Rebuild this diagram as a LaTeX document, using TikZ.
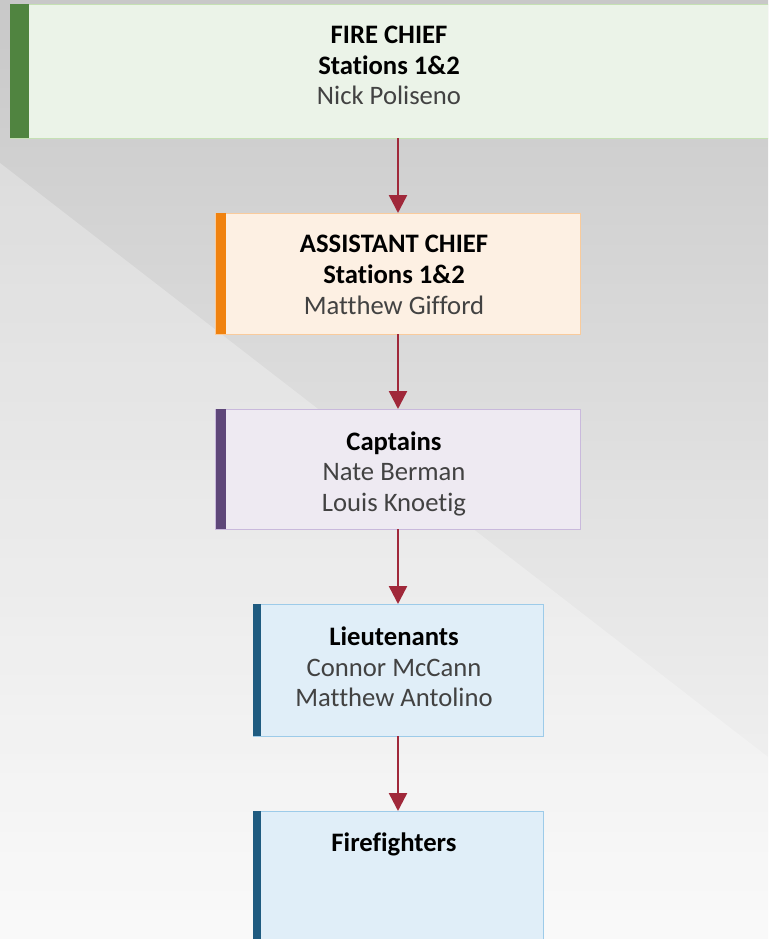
\documentclass[tikz,border=0pt]{standalone}
\usepackage{fontspec}
\setmainfont{Carlito}[Ligatures={NoCommon}]
\usetikzlibrary{arrows.meta,positioning}

\definecolor{bgtop}{RGB}{200,200,200}
\definecolor{bgbot}{RGB}{248,248,248}
\definecolor{chiefbar}{RGB}{80,132,64}
\definecolor{chieffill}{RGB}{235,243,232}
\definecolor{chiefline}{RGB}{197,224,180}
\definecolor{asstbar}{RGB}{240,130,15}
\definecolor{asstfill}{RGB}{253,240,227}
\definecolor{asstline}{RGB}{249,203,156}
\definecolor{captbar}{RGB}{94,71,121}
\definecolor{captfill}{RGB}{238,234,242}
\definecolor{captline}{RGB}{201,185,220}
\definecolor{ltbar}{RGB}{31,91,128}
\definecolor{ltfill}{RGB}{224,238,248}
\definecolor{ltline}{RGB}{157,203,233}
\definecolor{linkred}{RGB}{160,40,58}
\definecolor{namegray}{RGB}{66,66,66}

\tikzset{
	box/.style={draw=#1line, fill=#1fill, line width=0.75pt, inner sep=0pt, outer sep=0pt},
	title/.style={align=center, inner sep=0pt, anchor=north, font=\fontsize{20}{23}\selectfont},
	link/.style={draw=linkred, line width=1.8pt, -{Triangle[width=13.5pt,length=13.5pt]}}
}

\begin{document}
\begin{tikzpicture}[x=0.75pt,y=-0.75pt, node distance=56.25pt]
	\clip (0,0) rectangle (768,939);
	% background
	\shade[top color=bgtop, bottom color=bgbot] (0,0) rectangle (768,939);
	\fill[white, opacity=0.28] (0,163) -- (768,757) -- (768,939) -- (0,939) -- cycle;

	% boxes
	\node[box=chief, minimum width=582pt, minimum height=100.5pt] (chief) at (398,71) {};
	\node[box=asst, minimum width=273.75pt, minimum height=90.75pt, below=of chief] (asst) {};
	\node[box=capt, minimum width=273.75pt, minimum height=90pt, below=of asst] (capt) {};
	\node[box=lt, minimum width=217.5pt, minimum height=99pt, below=of capt] (lt) {};
	\node[box=lt, minimum width=217.5pt, minimum height=103.5pt, below=of lt] (ff) {};

	% colour bars
	\fill[chiefbar] (chief.north west) rectangle ([xshift=14.25pt]chief.south west);
	\fill[asstbar] (asst.north west) rectangle ([xshift=7.5pt]asst.south west);
	\fill[captbar] (capt.north west) rectangle ([xshift=7.5pt]capt.south west);
	\fill[ltbar] (lt.north west) rectangle ([xshift=6pt]lt.south west);
	\fill[ltbar] (ff.north west) rectangle ([xshift=6pt]ff.south west);

	% texts
	\node[title] (chieftxt) at ([xshift=-6.75pt,yshift=-16.2pt]chief.north)
		{\textbf{FIRE CHIEF}\\\textbf{Stations 1\&2}\\\textcolor{namegray}{Nick Poliseno}};
	\node[title] (assttxt) at ([xshift=-3pt,yshift=-16.6pt]asst.north)
		{\textbf{ASSISTANT CHIEF}\\\textbf{Stations 1\&2}\\\textcolor{namegray}{Matthew Gifford}};
	\node[title] (capttxt) at ([xshift=-3pt,yshift=-16.6pt]capt.north)
		{\textbf{Captains}\\\textcolor{namegray}{Nate Berman}\\\textcolor{namegray}{Louis Knoetig}};
	\node[title] (lttxt) at ([xshift=-3pt,yshift=-16.8pt]lt.north)
		{\textbf{Lieutenants}\\\textcolor{namegray}{Connor McCann}\\\textcolor{namegray}{Matthew Antolino}};
	\node[title] (fftxt) at ([xshift=-3pt,yshift=-16.4pt]ff.north)
		{\textbf{Firefighters}};

	% reporting lines
	\draw[link] (chief) -- (asst);
	\draw[link] (asst) -- (capt);
	\draw[link] (capt) -- (lt);
	\draw[link] (lt) -- (ff);
\end{tikzpicture}
\end{document}
